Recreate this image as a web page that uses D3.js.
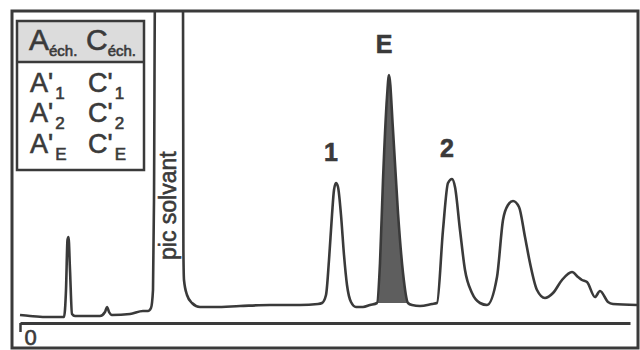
<!DOCTYPE html>
<html>
<head>
<meta charset="utf-8">
<title>Chromatogramme</title>
<style>
  html, body { margin:0; padding:0; background:#fff; }
  svg { display:block; font-family:"Liberation Sans", Arial, sans-serif; }
  svg text { stroke:#3a3a3a; stroke-width:0.6px; }
</style>
<script src="https://d3js.org/d3.v7.min.js"></script>
</head>
<body>
<svg id="chart"></svg>
<script>
// trace: time (arbitrary units) and detector signal
var times   = [0, 0.5, 1.25, 2.2, 2.3, 2.375, 2.425, 2.5, 2.6, 2.75, 4.0, 4.25, 4.35, 4.45, 4.6, 5.5, 6.15, 6.4, 6.55, 6.65, 6.7, 6.75,
               8.15, 8.17, 8.2, 8.35, 8.6, 9.0, 9.75, 11.0, 12.5, 14.0, 14.9,
               15.1, 15.3, 15.45, 15.6, 15.7, 15.8, 15.9, 16.05, 16.2, 16.35, 16.55, 16.8, 17.15, 17.5,
               17.85, 18.0, 18.15, 18.35, 18.45, 18.65, 18.9, 19.15, 19.4,
               19.6, 20.0, 20.6,
               20.85, 21.15, 21.4, 21.6, 21.75, 22.0, 22.25, 22.6, 23.0, 23.35,
               23.85, 24.15, 24.4, 24.65, 24.95, 25.25, 25.5, 25.85, 26.25, 26.65, 27.1, 27.6, 27.9, 28.1, 28.35, 28.75, 29.0, 29.4, 29.65, 30.85];
var signal  = [2.0, 1.6, 1.2, 1.2, 12, 32, 33.2, 20, 2.4, 1.6, 1.6, 3.2, 5.2, 3.2, 2.0, 2.4, 3.6, 3.6, 4.8, 12, 48, 130,
               130, 28, 16, 10, 6.8, 5.2, 5.2, 5.6, 6.0, 6.0, 6.4,
               6.8, 10, 24, 42, 52, 54.8, 53.2, 42, 26, 14, 7.2, 5.2, 5.2, 6.0,
               6.8, 22.8, 56, 89.2, 98, 76, 42.8, 18.8, 6.8,
               6.0, 5.6, 6.4,
               6.8, 36, 54.8, 56.4, 53.2, 36, 20, 10.8, 6.8, 6.0,
               17.2, 40, 46, 47.6, 45.2, 33.2, 22.8, 12, 8.8, 10.8, 16, 19.2, 17.2, 16, 15.2, 9.2, 11.6, 7.2, 6.4, 6.0];

// the shaded peak E (start and end time)
var peakE = [17.85, 19.4];

// peak labels
var peakNames = ["1", "E", "2"];
var peakTimes = [15.8, 18.45, 21.6];
var peakTops  = [54.8, 98, 56.4];

// table in the upper left corner
var headRow  = [["A", "éch."], ["C", "éch."]];
var tableA   = [["A'", "1"], ["A'", "2"], ["A'", "E"]];
var tableC   = [["C'", "1"], ["C'", "2"], ["C'", "E"]];

var tickVals = [0];
var solventLabel = "pic solvant";

var W = 640, H = 350;
var ink = "#3a3a3a";

var svg = d3.select("#chart").attr("width", W).attr("height", H);
svg.append("rect").attr("width", W).attr("height", H).attr("fill", "#fff");

var x = d3.scaleLinear().domain([0, 30.85]).range([20, 637]);
var y = d3.scaleLinear().domain([0, 120]).range([320, 20]);

// frame
svg.append("defs").append("clipPath").attr("id", "frameClip")
  .append("rect").attr("x", 12).attr("y", 11).attr("width", 626).attr("height", 337);

var pts = times.map(function(t, i) { return [t, signal[i]]; });

// shaded E peak
var ePts = pts.filter(function(d) { return d[0] >= peakE[0] && d[0] <= peakE[1]; });
var eBase = ePts[0][1];
svg.append("path")
  .datum(ePts)
  .attr("fill", "#5e5e5e")
  .attr("d", d3.area()
    .x(function(d) { return x(d[0]); })
    .y0(y(eBase))
    .y1(function(d) { return y(d[1]); })
    .curve(d3.curveMonotoneX));

// trace
svg.append("g").attr("clip-path", "url(#frameClip)")
  .append("path")
  .datum(pts)
  .attr("fill", "none")
  .attr("stroke", ink)
  .attr("stroke-width", 2.6)
  .attr("stroke-linejoin", "round")
  .attr("d", d3.line()
    .x(function(d) { return x(d[0]); })
    .y(function(d) { return y(d[1]); })
    .curve(d3.curveMonotoneX));

// time axis
var xAxisScale = d3.scaleLinear().domain([0, x.invert(630)]).range([20, 630]);
var axis = svg.append("g")
  .attr("transform", "translate(0,323)")
  .call(d3.axisBottom(xAxisScale).tickValues(tickVals).tickSize(9).tickSizeOuter(0).tickFormat(d3.format("d")));
axis.select(".domain").attr("stroke", ink).attr("stroke-width", 3);
axis.selectAll(".tick line").attr("stroke", ink).attr("stroke-width", 2.5);
axis.selectAll(".tick text")
  .attr("fill", ink).attr("font-size", 22)
  .attr("font-family", "Liberation Sans, Arial, sans-serif")
  .attr("text-anchor", "start").attr("x", 4).attr("y", 6);

// outer frame
svg.append("rect")
  .attr("x", 12).attr("y", 11).attr("width", 626).attr("height", 337)
  .attr("fill", "none").attr("stroke", ink).attr("stroke-width", 3);

// peak labels
svg.selectAll(".plabel").data(peakNames).enter().append("text")
  .attr("class", "plabel")
  .attr("x", function(d, i) { return x(peakTimes[i]) - 5; })
  .attr("y", function(d, i) { return y(peakTops[i]) - 22; })
  .attr("text-anchor", "middle")
  .attr("font-size", 25).attr("font-weight", "bold").attr("fill", ink)
  .text(function(d) { return d; });

// solvent label
svg.append("text")
  .attr("transform", "translate(176,260) rotate(-90)")
  .attr("font-size", 23).attr("fill", ink)
  .text(solventLabel);

// table
var tbl = svg.append("g");
tbl.append("rect").attr("x", 17).attr("y", 21).attr("width", 127).attr("height", 41)
  .attr("fill", "#dcdcdc");
tbl.append("rect").attr("x", 17).attr("y", 21).attr("width", 127).attr("height", 149)
  .attr("fill", "none").attr("stroke", ink).attr("stroke-width", 2.5);
tbl.append("line").attr("x1", 17).attr("x2", 144).attr("y1", 62).attr("y2", 62)
  .attr("stroke", ink).attr("stroke-width", 2.5);

var headX = [29, 86];
headRow.forEach(function(h, i) {
  var t = tbl.append("text").attr("x", headX[i]).attr("y", 50).attr("fill", ink);
  t.append("tspan").attr("font-size", 30).text(h[0]);
  t.append("tspan").attr("font-size", 15).attr("dy", 6).text(h[1]);
});

var rowY = [92, 122, 153];
function cell(txt, x0, yy) {
  var t = tbl.append("text").attr("x", x0).attr("y", yy).attr("fill", ink);
  t.append("tspan").attr("font-size", 27).text(txt[0]);
  t.append("tspan").attr("font-size", 17).attr("dx", 2).attr("dy", 7).text(txt[1]);
}
tableA.forEach(function(c, i) { cell(c, 30, rowY[i]); });
tableC.forEach(function(c, i) { cell(c, 88, rowY[i]); });
</script>
</body>
</html>
